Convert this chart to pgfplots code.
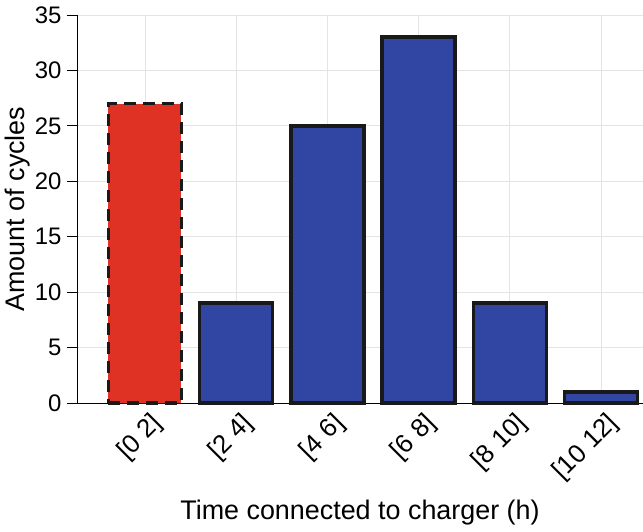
\documentclass[border=0pt]{standalone}
\usepackage{pgfplots}
\pgfplotsset{compat=1.18}
\usepackage{fontspec}
\setmainfont{Liberation Sans}
\definecolor{barred}{RGB}{223,50,36}
\definecolor{barblue}{RGB}{48,70,162}
\definecolor{edge}{RGB}{25,25,25}
\definecolor{gridc}{RGB}{228,228,228}
\begin{document}
\begin{tikzpicture}[x=1bp,y=1bp]
\begin{axis}[
  scale only axis,
  width=566bp, height=388bp,
  xmin=-0.745, xmax=5.46,
  ymin=0, ymax=35,
  ytick={0,5,...,35},
  xtick={0,1,2,3,4,5},
  xticklabels={{[0 2]},{[2 4]},{[4 6]},{[6 8]},{[8 10]},{[10 12]}},
  axis x line*=bottom, axis y line*=left,
  axis line style={black, line width=0.8bp, -},
  grid=major,
  major grid style={gridc, line width=0.8bp},
  tick style={black, line width=0.8bp},
  major tick length=10bp,
  tick align=outside,
  x tick style={draw=none},
  every tick label/.append style={font=\fontsize{24}{28}\selectfont},
  /pgf/number format/assume math mode=true,
  yticklabel style={xshift=-2bp},
  xticklabel style={font=\fontsize{26}{30}\selectfont, rotate=45, anchor=east, xshift=8bp, yshift=-14bp},
  xlabel={Time connected to charger (h)},
  ylabel={Amount of cycles},
  label style={font=\fontsize{27}{31}\selectfont},
  xlabel style={yshift=-8bp},
  ylabel style={yshift=-2bp},
  ybar, bar width=0.8, bar shift=0pt,
  clip=false,
]
\addplot[fill=barred, draw=edge, line width=3.5bp, dash pattern=on 12bp off 7bp] coordinates {(0,27)};
\addplot[fill=barblue, draw=edge, line width=3.5bp] coordinates {(1,9) (2,25) (3,33) (4,9) (5,1)};
\end{axis}
\pgfresetboundingbox
\path[use as bounding box] ([xshift=-77bp,yshift=-129bp]current axis.south west) rectangle ([yshift=15bp]current axis.north east);
\end{tikzpicture}
\end{document}
